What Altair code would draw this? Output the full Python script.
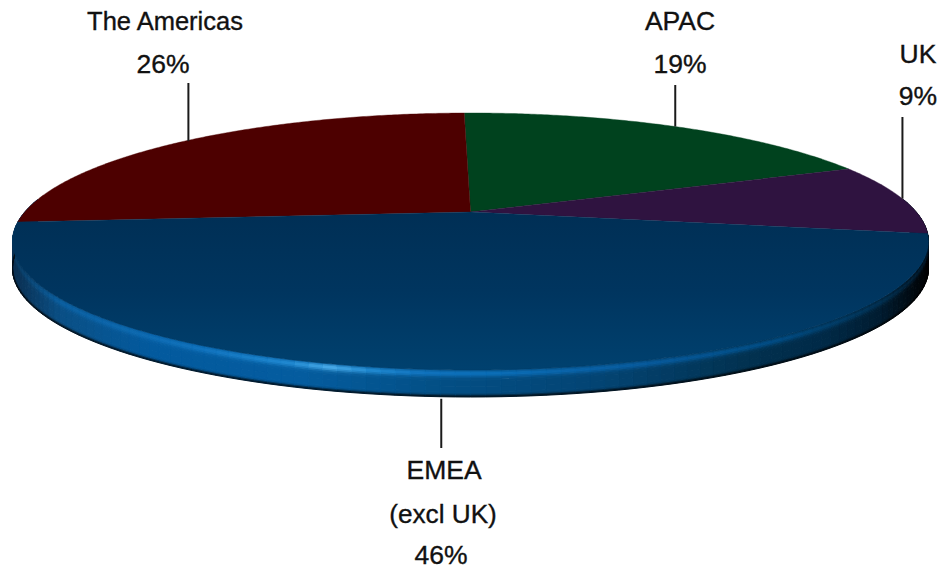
import numpy as np
import altair as alt

# Revenue split by region, clockwise from the back of the disc
regions = ["APAC", "UK", "EMEA", "The Americas"]
shares = [19, 9, 46, 26]
slice_colors = ["#00421e", "#2f1340", "#00335e", "#4d0000"]

# Text blocks and leader lines
label_lines = [["APAC", "19%"], ["UK", "9%"], ["EMEA", "(excl UK)", "46%"], ["The Americas", "26%"]]
label_x = [[680, 680], [918, 918], [444, 443, 441], [165, 163]]
label_y = [[22, 65], [55, 97], [471, 515, 556], [22, 65]]
label_size = [[26.5, 26.5], [26.5, 26.5], [26.5, 26.2, 26.5], [25.5, 26.5]]
leader_dx = [0, 0, -3, 4]
leader_end_y = [85, 117, 448, 83]

# Disc geometry, in pixels on the 941x570 canvas
APEX_X, APEX_Y = 470.5, 212.0
FRONT, BACK = 158.0, 99.0
K = (FRONT - BACK) / (FRONT + BACK)
DEPTH_B = BACK * (1 + K)
WIDTH_A = 458.0 * np.sqrt(1 - K * K)
RIM = 27.0
START_DEG = -1.0

# Shading stops for the edge of the disc, by screen x
rim_x = [12, 60, 150, 300, 440, 600, 750, 820, 880, 930]
wall_hex = ["#0b2f50", "#0a4f85", "#035a9e", "#045c9f", "#034f85", "#034473", "#02314f", "#002a48", "#001c30", "#000000"]
crest_x = [12, 60, 200, 290, 330, 370, 420, 500, 640, 780, 880, 930]
crest_hex = ["#0a3a60", "#0a5fa0", "#0f72bd", "#1f88d0", "#46a8e6", "#1f88d0", "#0f72bd", "#0a6cb5", "#075a9c", "#004a80", "#002f50", "#001525"]


def project(deg, drop=0.0):
    """Perspective view of a point on the unit circle, `deg` clockwise from the back."""
    a = np.radians(deg)
    u, v = np.sin(a), np.cos(a)
    w = 1 + K * v
    return [float(APEX_X + WIDTH_A * u / w), float(APEX_Y - DEPTH_B * v / w + drop)]


def rgb(hex_list):
    return np.array([[int(h[i:i + 2], 16) for i in (1, 3, 5)] for h in hex_list], dtype=float)


def sample(x, xs, cols):
    return np.array([np.interp(x, xs, cols[:, c]) for c in range(3)])


def polygon(points, **props):
    return {
        "type": "Feature",
        "geometry": {"type": "Polygon", "coordinates": [points + [points[0]]]},
        "properties": props,
    }


# Slice outlines follow from the shares
edges = START_DEG + np.cumsum([0] + [s * 3.6 for s in shares])
slices = []
mids = []
for i, region in enumerate(regions):
    lo, hi = edges[i], edges[i + 1]
    arc = [project(d) for d in np.linspace(lo, hi, max(int((hi - lo) * 2), 8))]
    slices.append(polygon([[APEX_X, APEX_Y]] + arc, fill=slice_colors[i], region=region))
    mids.append((lo + hi) / 2)

# Edge of the disc as thin shaded facets
wall_rgb, crest_rgb = rgb(wall_hex), rgb(crest_hex)
bands = [0.0, 0.05, 0.1, 0.15, 0.2, 0.26, 0.32, 0.4, 0.6, 0.8, 0.88, 0.93, 0.97, 1.0]
crest_amount = [0.35, 0.7, 1.0, 1.0, 0.7, 0.3, 0.08, 0, 0, 0, 0, 0, 0]
edge_dim = [1, 1, 1, 1, 1, 1, 1, 1, 1, 1, 0.9, 0.6, 0.3]
facets = []
steps = np.arange(84.0, 276.0, 1.5)
for d0 in steps:
    d1 = d0 + 1.5
    mid_x = project((d0 + d1) / 2)[0]
    wall = sample(mid_x, rim_x, wall_rgb)
    crest = sample(mid_x, crest_x, crest_rgb)
    for b in range(len(bands) - 1):
        c = (wall * (1 - crest_amount[b]) + crest * crest_amount[b]) * edge_dim[b]
        color = "#%02x%02x%02x" % tuple(int(round(n)) for n in c)
        t0, t1 = bands[b] * RIM, bands[b + 1] * RIM
        facets.append(polygon(
            [project(d0, t0), project(d1, t0), project(d1, t1), project(d0, t1)],
            fill=color,
        ))

flat = dict(type="identity", scale=1, translate=[0, 0])

rim_layer = (
    alt.Chart(alt.Data(values=facets))
    .mark_geoshape(strokeWidth=1)
    .encode(fill=alt.Fill("properties.fill:N", scale=None), stroke=alt.Stroke("properties.fill:N", scale=None))
    .project(**flat)
)

flat_slices = [s for s in slices if s["properties"]["region"] != "EMEA"]
flat_layer = (
    alt.Chart(alt.Data(values=flat_slices))
    .mark_geoshape(strokeWidth=0.4)
    .encode(fill=alt.Fill("properties.fill:N", scale=None), stroke=alt.Stroke("properties.fill:N", scale=None))
    .project(**flat)
)

emea_layer = (
    alt.Chart(alt.Data(values=[s for s in slices if s["properties"]["region"] == "EMEA"]))
    .mark_geoshape(
        fill=alt.Gradient(
            gradient="linear", x1=0, y1=0, x2=0, y2=1,
            stops=[
                alt.GradientStop(color="#002f55", offset=0),
                alt.GradientStop(color="#00355f", offset=0.5),
                alt.GradientStop(color="#00416f", offset=1),
            ],
        ),
        stroke="#00355f",
        strokeWidth=0.3,
    )
    .project(**flat)
)

x_px = alt.X("x:Q", scale=alt.Scale(domain=[0, 941], range=[0, 941]), axis=None)
y_px = alt.Y("y:Q", scale=alt.Scale(domain=[0, 570], range=[0, 570]), axis=None)

# Leaders start on the outer rim at each slice's middle angle
leader_rows = []
for i, region in enumerate(regions):
    px, py = project(mids[i], RIM + 2 if region == "EMEA" else 0)
    leader_rows.append({"region": region, "x": px + leader_dx[i], "y": py, "y2": leader_end_y[i]})

leader_layer = (
    alt.Chart(alt.Data(values=leader_rows))
    .mark_rule(color="#1a1a1a", strokeWidth=2)
    .encode(x=x_px, y=y_px, y2=alt.Y2("y2:Q"))
)

text_rows = []
for i in range(len(regions)):
    for line, tx, ty, ts in zip(label_lines[i], label_x[i], label_y[i], label_size[i]):
        text_rows.append({"x": tx, "y": ty, "text": line, "size": ts})

text_layer = (
    alt.Chart(alt.Data(values=text_rows))
    .mark_text(
        font="Liberation Sans", color="#111111", stroke="#111111", strokeWidth=0.35,
        align="center", baseline="middle",
    )
    .encode(x=x_px, y=y_px, text=alt.Text("text:N"), size=alt.Size("size:Q", scale=None))
)

chart = (
    alt.layer(rim_layer, flat_layer, emea_layer, leader_layer, text_layer)
    .properties(width=941, height=570, padding=0, background="white", autosize=alt.AutoSizeParams(type="none"))
    .configure_view(stroke=None)
)

chart.save("out.html", embed_options={"renderer": "svg", "actions": False})
